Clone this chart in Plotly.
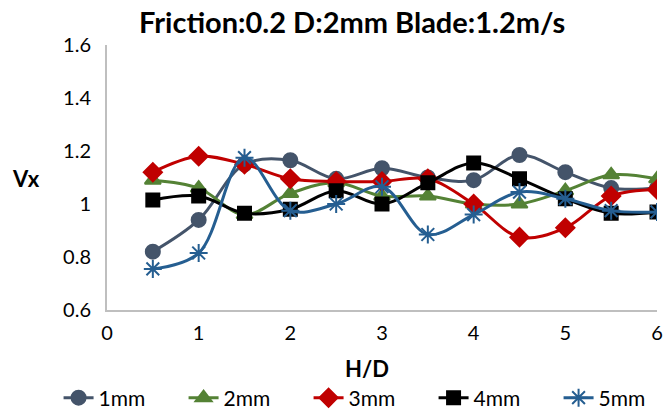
import plotly.graph_objects as go

hd = [0.5, 1, 1.5, 2, 2.5, 3, 3.5, 4, 4.5, 5, 5.5, 6]
s1mm = [0.82, 0.94, 1.15, 1.165, 1.095, 1.135, 1.10, 1.09, 1.185, 1.12, 1.06, 1.06]
s2mm = [1.09, 1.06, 0.96, 1.04, 1.08, 1.03, 1.03, 1.00, 1.00, 1.05, 1.11, 1.095]
s3mm = [1.12, 1.18, 1.15, 1.095, 1.085, 1.085, 1.095, 1.00, 0.875, 0.91, 1.03, 1.055]
s4mm = [1.015, 1.03, 0.965, 0.98, 1.05, 1.00, 1.08, 1.155, 1.095, 1.02, 0.965, 0.97]
s5mm = [0.755, 0.815, 1.175, 0.975, 1.00, 1.065, 0.885, 0.96, 1.045, 1.02, 0.975, 0.97]

names = ["1mm", "2mm", "3mm", "4mm", "5mm"]
series = [s1mm, s2mm, s3mm, s4mm, s5mm]
colors = ["#44546A", "#548235", "#C00000", "#000000", "#255E91"]
symbols = ["circle", "triangle-up", "diamond", "square", "asterisk-open"]
sizes = [14, 14, 14, 13, 15]

W, H = 665, 412
L, R, T, B = 107, 657, 45, 310  # plot area in pixels

fig = go.Figure()
for n, s, c, sym, sz in zip(names, series, colors, symbols, sizes):
    fig.add_trace(go.Scatter(
        x=hd, y=s, name=n, mode="lines+markers",
        line=dict(color=c, width=3, shape="spline", smoothing=1.0),
        marker=dict(symbol=sym, size=sz, color=c, line=dict(color=c, width=2)),
    ))

font = "Lato, 'Open Sans', sans-serif"
fig.update_layout(
    width=W, height=H,
    margin=dict(l=0, r=0, t=T, b=H - B, autoexpand=False),
    paper_bgcolor="white", plot_bgcolor="white",
    font=dict(family=font, size=19, color="black"),
    showlegend=True,
    legend=dict(orientation="h", x=0.558, xref="container", xanchor="center",
                y=398, yref="container", yanchor="middle",
                font=dict(size=21), entrywidth=80, entrywidthmode="pixels",
                tracegroupgap=0, bgcolor="rgba(0,0,0,0)"),
    xaxis=dict(domain=[L / W, R / W], range=[0, 6], tickvals=[0, 1, 2, 3, 4, 5, 6],
               showgrid=False, zeroline=False, showline=True, linecolor="#BFBFBF",
               linewidth=2, ticks="", tickfont=dict(size=20), ticklabelstandoff=4),
    yaxis=dict(range=[0.6, 1.6], tickvals=[0.6, 0.8, 1.0, 1.2, 1.4, 1.6],
               ticktext=["0.6", "0.8", "1", "1.2", "1.4", "1.6"], showgrid=False,
               zeroline=False, showline=True, linecolor="#BFBFBF", linewidth=2,
               ticks="", tickfont=dict(size=20), ticklabelstandoff=10),
    annotations=[
        dict(text="<b>Friction:0.2 D:2mm Blade:1.2m/s</b>", x=352, y=21,
             showarrow=False, font=dict(size=29)),
        dict(text="<b>H/D</b>", x=367, y=368, showarrow=False, font=dict(size=22)),
        dict(text="<b>Vx</b>", x=26, y=178, showarrow=False, font=dict(size=22)),
    ],
)
# legend y given in pixels from top -> container fraction
fig.layout.legend.y = (H - fig.layout.legend.y) / H
# convert pixel positions of annotations into paper coordinates
ph = B - T
for a in fig.layout.annotations:
    a.x = a.x / W
    a.y = (B - a.y) / ph
    a.xref = "paper"
    a.yref = "paper"
    a.xanchor = "center"
    a.yanchor = "middle"

fig.write_html("out.html")
